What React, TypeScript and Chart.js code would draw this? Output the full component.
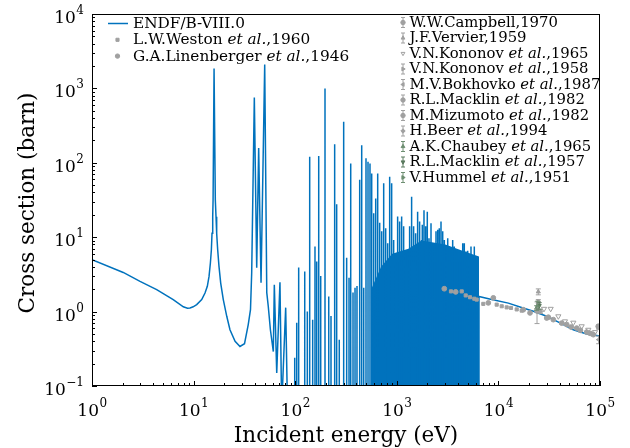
import React, { useEffect, useRef } from "react";
import { Chart, registerables } from "chart.js";
import { drawPoint } from "chart.js/helpers";
Chart.register(...registerables);

const BLUE = "#0072BD";
const GRAY = "#a0a0a0";
const GREEN = "#6e8f72";
const DKGREEN = "#5b7a5e";
const FONT = "'DejaVu Serif', serif";
const FLOOR = 1e-3;

// ENDF/B-VIII.0 smooth low-energy part (eV, barn)
const lowEnergy = [1, 2.03, 2.97, 4.33, 6.3, 7.92, 8.7, 9.22, 9.9, 10.73, 12.02, 12.95, 13.65, 14.19, 14.63, 14.96, 15.18, 15.42, 15.55, 15.9, 16.36, 16.62, 16.87, 17.26, 17.78, 18.48, 19.6, 21.2, 22.8, 25.6, 28.6, 31.7, 34.5, 36.3, 37.3, 39.6, 41.8, 43.7, 46.1, 50.1, 52.5, 54.3, 57.0, 60.9, 62.3, 65.8, 70.8, 73.6, 80.6, 84];
const lowSigma = [5.0, 3.36, 2.55, 1.97, 1.45, 1.16, 1.11, 1.12, 1.16, 1.24, 1.45, 1.78, 2.19, 2.97, 4.5, 6.77, 11.3, 18.9, 31.6, 1850, 31.6, 18.9, 11.3, 6.77, 4.05, 2.42, 1.45, 0.865, 0.57, 0.4, 0.34, 0.37, 0.67, 1.06, 3.3, 755, 3.9, 158, 2.45, 2100, 1.8, 1.18, 0.57, 0.29, 2.3, 0.15, 2.47, 0.05, 1.13, 0.05];

// Resolved resonance peaks (eV, barn)
const resEnergy = [98.9, 103.5, 108.2, 124.1, 131.6, 138.9, 148.6, 156.6, 162.8, 170.4, 178.3, 196.5, 213.8, 225.1, 244.6, 256, 271.5, 300, 321, 338.6, 351.9, 370.7, 388, 405.7, 431.3, 451.4, 472.5, 497.6, 520.7, 544.7, 566.2, 592.4, 620, 648.6, 678.6, 710, 742.9, 777.2, 813.2, 850.8, 890.1, 931.3, 974.3, 1019, 1066, 1116, 1168, 1222, 1278, 1337, 1399, 1464, 1532, 1603, 1677, 1754, 1782, 1852, 1924, 1996, 2074, 2171, 2255, 2339, 2431, 2527, 2620, 2723, 2830, 2937, 3050, 3171, 3288, 3414, 3548, 3680, 3825, 3975, 4123, 4285, 4454, 4617, 4797, 4985, 5171, 5373, 5585, 5792, 6020, 6254];
const resPeak = [0.24, 0.71, 3.9, 3.47, 1.0, 121, 0.78, 7.5, 4.7, 123, 3.0, 1000, 1.6, 0.87, 178, 27.7, 0.42, 355, 5.3, 2.85, 98, 1.8, 2.1, 2.2, 59, 172, 2.1, 115, 103, 98, 72, 21, 33, 72, 15.6, 12, 53, 13.2, 8.3, 65, 53, 9.2, 5, 19, 16.2, 19, 14, 6.1, 4.1, 14, 35, 14, 11.3, 22, 16.2, 9.2, 14.7, 23, 14, 22, 9.7, 15.4, 7.5, 8.3, 12, 12.6, 13.2, 16.2, 12, 9.2, 7.5, 9.7, 7.5, 6.8, 9.2, 7.5, 6.1, 6.4, 5, 5.5, 8.3, 8.3, 6.4, 6.6, 5.8, 7.5, 5.2, 7.5, 5, 5];

// Level up to which the dense resonance band appears solid
const denseEnergy = [560, 700, 900, 1300, 1750, 3000, 4500, 6442];
const denseLevel = [2, 4, 6, 7, 9, 8, 6.5, 5.5];

// Smooth unresolved part
const highEnergy = [6442, 8590, 12530, 17500, 22070, 29870, 40370, 54600, 73960, 100000];
const highSigma = [1.6, 1.45, 1.3, 1.12, 1.01, 0.865, 0.705, 0.57, 0.5, 0.47];

// Experimental data
const westonE = [3413, 4355, 4768, 5253, 5790, 6113, 7100, 9620, 10780, 12070, 13300, 15140, 16950];
const westonS = [1.87, 1.87, 1.65, 1.56, 1.49, 1.45, 1.27, 1.24, 1.18, 1.14, 1.12, 1.07, 1.03];
const linenE = [2934, 3800, 7955, 8913, 17580, 20470, 29870, 34700, 47000, 59000, 73960, 85900, 96200];
const linenS = [2.03, 1.84, 1.31, 1.53, 1.06, 0.96, 0.82, 0.78, 0.67, 0.6, 0.53, 0.49, 0.635];
const campbellE = [24000];
const campbellS = [1.02];
const campbellErr = [0.33];
const vervierE = [24700];
const vervierS = [1.85];
const vervierErr = [0.17];
const kon65E = [28100, 32700, 38900, 45200, 54600, 66000, 76700, 89300];
const kon65S = [1.09, 1.09, 0.865, 0.74, 0.71, 0.635, 0.57, 0.53];
const kon58E = [24700];
const kon58S = [1.37];
const kon58Err = [0.08];
const bokhE = [97000];
const bokhS = [0.42];
const bokhErr = [0.05];
const mack82E = [97000];
const mack82S = [0.62];
const mack82Err = [0.04];
const mizuE = [31000, 42000, 52000, 64000, 80000];
const mizuS = [0.84, 0.7, 0.62, 0.56, 0.51];
const mizuErr = [0.02, 0.02, 0.02, 0.02, 0.02];
const beerE = [26000];
const beerS = [1.0];
const beerErr = [0.06];
const chaubeyE = [23800];
const chaubeyS = [1.12];
const chaubeyErr = [0.08];
const mack57E = [25200];
const mack57S = [1.2];
const mack57Err = [0.12];
const hummelE = [24400];
const hummelS = [1.28];
const hummelErr = [0.1];

const xDecades = [1, 10, 100, 1000, 10000, 100000];
const xExp = ["0", "1", "2", "3", "4", "5"];
const yDecades = [0.1, 1, 10, 100, 1000, 10000];
const yExp = ["\u22121", "0", "1", "2", "3", "4"];

const zip = (e: number[], s: number[]) => e.map((x, i) => ({ x, y: s[i] }));

function buildEndf() {
  const pts: { x: number; y: number }[] = [];
  lowEnergy.forEach((e, i) => pts.push({ x: e, y: lowSigma[i] }));
  resEnergy.forEach((e, i) => {
    pts.push({ x: e, y: FLOOR }, { x: e, y: resPeak[i] }, { x: e, y: FLOOR });
  });
  pts.push({ x: highEnergy[0], y: FLOOR });
  highEnergy.forEach((e, i) => pts.push({ x: e, y: highSigma[i] }));
  return pts;
}

function drawLabel(ctx: CanvasRenderingContext2D, text: string, x: number, y: number, size: number) {
  const parts = text.split(/(et al\.)/);
  let cx = x;
  for (const p of parts) {
    if (!p) continue;
    ctx.font = (p === "et al." ? "italic " : "") + size + "px " + FONT;
    ctx.fillText(p, cx, y);
    cx += ctx.measureText(p).width;
  }
}

const decorPlugin = {
  id: "decor",
  afterDatasetsDraw(chart: any) {
    const ctx = chart.ctx as CanvasRenderingContext2D;
    const xs = chart.scales.x;
    const ys = chart.scales.y;
    const area = chart.chartArea;
    ctx.save();
    ctx.beginPath();
    ctx.rect(area.left, area.top, area.right - area.left, area.bottom - area.top);
    ctx.clip();
    chart.data.datasets.forEach((ds: any) => {
      if (!ds.errors) return;
      ctx.strokeStyle = ds.borderColor;
      ctx.lineWidth = 1;
      ds.data.forEach((p: any, i: number) => {
        const px = xs.getPixelForValue(p.x);
        const y1 = ys.getPixelForValue(p.y + ds.errors[i]);
        const y2 = ys.getPixelForValue(p.y - ds.errors[i]);
        ctx.beginPath();
        ctx.moveTo(px, y1);
        ctx.lineTo(px, y2);
        ctx.moveTo(px - 2.5, y1);
        ctx.lineTo(px + 2.5, y1);
        ctx.moveTo(px - 2.5, y2);
        ctx.lineTo(px + 2.5, y2);
        ctx.stroke();
      });
    });
    ctx.restore();

    ctx.save();
    ctx.strokeStyle = "#000";
    ctx.lineWidth = 1;
    ctx.strokeRect(area.left + 0.5, area.top + 0.5, area.right - area.left - 1, area.bottom - area.top - 1);
    ctx.beginPath();
    for (let k = 0; k < xDecades.length; k++) {
      for (let m = 1; m <= 9; m++) {
        const v = xDecades[k] * m;
        if (v > xDecades[xDecades.length - 1]) break;
        const px = Math.round(xs.getPixelForValue(v)) + 0.5;
        const len = m === 1 ? 5 : 3;
        ctx.moveTo(px, area.bottom);
        ctx.lineTo(px, area.bottom - len);
      }
    }
    for (let k = 0; k < yDecades.length; k++) {
      for (let m = 1; m <= 9; m++) {
        const v = yDecades[k] * m;
        if (v > yDecades[yDecades.length - 1]) break;
        const py = Math.round(ys.getPixelForValue(v)) + 0.5;
        const len = m === 1 ? 5 : 3;
        ctx.moveTo(area.left, py);
        ctx.lineTo(area.left + len, py);
      }
    }
    ctx.stroke();
    ctx.restore();
  },
  afterDraw(chart: any) {
    const ctx = chart.ctx as CanvasRenderingContext2D;
    const xs = chart.scales.x;
    const ys = chart.scales.y;
    const area = chart.chartArea;
    ctx.save();
    ctx.fillStyle = "#000";
    ctx.textBaseline = "alphabetic";
    const big = 17;
    const small = 12;
    xDecades.forEach((v, i) => {
      const px = xs.getPixelForValue(v);
      ctx.font = big + "px " + FONT;
      const w1 = ctx.measureText("10").width;
      ctx.font = small + "px " + FONT;
      const w2 = ctx.measureText(xExp[i]).width;
      const x0 = px - (w1 + w2) / 2;
      ctx.font = big + "px " + FONT;
      ctx.fillText("10", x0, area.bottom + 30);
      ctx.font = small + "px " + FONT;
      ctx.fillText(xExp[i], x0 + w1 + 0.5, area.bottom + 21);
    });
    yDecades.forEach((v, i) => {
      const py = ys.getPixelForValue(v);
      ctx.font = small + "px " + FONT;
      const w2 = ctx.measureText(yExp[i]).width;
      ctx.font = big + "px " + FONT;
      const w1 = ctx.measureText("10").width;
      const xr = area.left - 8;
      ctx.fillText("10", xr - w2 - w1 - 0.5, py + 9);
      ctx.font = small + "px " + FONT;
      ctx.fillText(yExp[i], xr - w2, py);
    });
    ctx.font = "21.5px " + FONT;
    ctx.textAlign = "center";
    ctx.fillText("Incident energy (eV)", (area.left + area.right) / 2, 442);
    ctx.save();
    ctx.translate(28, (area.top + area.bottom) / 2 + 3);
    ctx.rotate(-Math.PI / 2);
    ctx.textBaseline = "middle";
    ctx.fillText("Cross section (barn)", 0, 0);
    ctx.restore();
    ctx.textAlign = "left";

    const cols = [
      { icon: 117.5, text: 133, y0: 23.5, dy: 16.3, size: 15.3 },
      { icon: 403, text: 409.5, y0: 22.5, dy: 15.5, size: 14.8 },
    ];
    const counters = [0, 0];
    chart.data.datasets.forEach((ds: any) => {
      if (ds.legendCol === undefined) return;
      const c = ds.legendCol;
      const L = cols[c];
      const y = L.y0 + L.dy * counters[c]++;
      if (ds.isLine) {
        ctx.strokeStyle = ds.borderColor;
        ctx.lineWidth = 1.5;
        ctx.beginPath();
        ctx.moveTo(108, y);
        ctx.lineTo(128, y);
        ctx.stroke();
      } else {
        if (ds.errors) {
          ctx.strokeStyle = ds.borderColor;
          ctx.lineWidth = 1;
          ctx.beginPath();
          ctx.moveTo(L.icon, y - 5);
          ctx.lineTo(L.icon, y + 5);
          ctx.moveTo(L.icon - 2, y - 5);
          ctx.lineTo(L.icon + 2, y - 5);
          ctx.moveTo(L.icon - 2, y + 5);
          ctx.lineTo(L.icon + 2, y + 5);
          ctx.stroke();
        }
        ctx.fillStyle = ds.pointBackgroundColor;
        ctx.strokeStyle = ds.borderColor;
        ctx.lineWidth = 1;
        drawPoint(ctx, { pointStyle: ds.pointStyle, rotation: ds.pointRotation || 0, radius: 2.2, borderWidth: 1 } as any, L.icon, y);
      }
      ctx.fillStyle = "#000";
      ctx.textBaseline = "middle";
      drawLabel(ctx, ds.label, L.text, y + 0.5, L.size);
      ctx.textBaseline = "alphabetic";
    });
    ctx.restore();
  },
};

function expSet(label: string, e: number[], s: number[], style: string, color: string, col: number, extra: any = {}) {
  return {
    label,
    data: zip(e, s),
    showLine: false,
    pointStyle: style,
    pointRadius: 2.4,
    pointBorderWidth: 1,
    borderColor: color,
    backgroundColor: color,
    pointBackgroundColor: color,
    pointBorderColor: color,
    legendCol: col,
    order: 1,
    ...extra,
  };
}

export default function App() {
  const ref = useRef<HTMLCanvasElement>(null);
  useEffect(() => {
    if (!ref.current) return;
    const datasets: any[] = [
      {
        label: "ENDF/B-VIII.0",
        data: buildEndf(),
        borderColor: BLUE,
        backgroundColor: BLUE,
        borderWidth: 1.5,
        pointRadius: 0,
        tension: 0,
        isLine: true,
        legendCol: 0,
        order: 2,
      },
      expSet("L.W.Weston et al.,1960", westonE, westonS, "rect", GRAY, 0, { pointRadius: 2.2 }),
      expSet("G.A.Linenberger et al.,1946", linenE, linenS, "circle", GRAY, 0),
      expSet("W.W.Campbell,1970", campbellE, campbellS, "circle", GRAY, 1, { errors: campbellErr }),
      expSet("J.F.Vervier,1959", vervierE, vervierS, "triangle", GRAY, 1, { errors: vervierErr }),
      expSet("V.N.Kononov et al.,1965", kon65E, kon65S, "triangle", GRAY, 1, { pointRotation: 180, pointBackgroundColor: "rgba(0,0,0,0)", backgroundColor: "rgba(0,0,0,0)", pointRadius: 3 }),
      expSet("V.N.Kononov et al.,1958", kon58E, kon58S, "triangle", GRAY, 1, { pointRotation: 90, errors: kon58Err }),
      expSet("M.V.Bokhovko et al.,1987", bokhE, bokhS, "triangle", GRAY, 1, { pointRotation: -90, errors: bokhErr }),
      expSet("R.L.Macklin et al.,1982", mack82E, mack82S, "circle", GRAY, 1, { errors: mack82Err }),
      expSet("M.Mizumoto et al.,1982", mizuE, mizuS, "circle", GRAY, 1, { errors: mizuErr }),
      expSet("H.Beer et al.,1994", beerE, beerS, "rectRot", GRAY, 1, { errors: beerErr }),
      expSet("A.K.Chaubey et al.,1965", chaubeyE, chaubeyS, "triangle", GREEN, 1, { errors: chaubeyErr }),
      expSet("R.L.Macklin et al.,1957", mack57E, mack57S, "triangle", DKGREEN, 1, { pointRotation: 180, errors: mack57Err }),
      expSet("V.Hummel et al.,1951", hummelE, hummelS, "triangle", GREEN, 1, { pointRotation: 90, errors: hummelErr }),
      {
        label: "dense band",
        data: zip(denseEnergy, denseLevel),
        borderWidth: 0,
        borderColor: BLUE,
        backgroundColor: BLUE,
        pointRadius: 0,
        fill: "start",
        tension: 0,
        order: 3,
      },
    ];
    const chart = new Chart(ref.current, {
      type: "line",
      data: { datasets },
      options: {
        animation: false,
        responsive: true,
        maintainAspectRatio: false,
        layout: { padding: { top: 14, right: 30, left: 0, bottom: 0 } },
        plugins: { legend: { display: false }, tooltip: { enabled: false }, title: { display: false }, filler: { propagate: false } },
        scales: {
          x: {
            type: "logarithmic",
            min: 1,
            max: 100000,
            ticks: { display: false },
            grid: { display: false },
            border: { display: false },
            afterFit: (s: any) => { s.height = 62; },
          },
          y: {
            type: "logarithmic",
            min: 0.1,
            max: 10000,
            ticks: { display: false },
            grid: { display: false },
            border: { display: false },
            afterFit: (s: any) => { s.width = 92; },
          },
        },
      } as any,
      plugins: [decorPlugin as any],
    });
    return () => chart.destroy();
  }, []);
  return (
    <div style={{ position: "fixed", left: 0, top: 0, width: 630, height: 448, background: "#fff" }}>
      <canvas ref={ref} />
    </div>
  );
}
